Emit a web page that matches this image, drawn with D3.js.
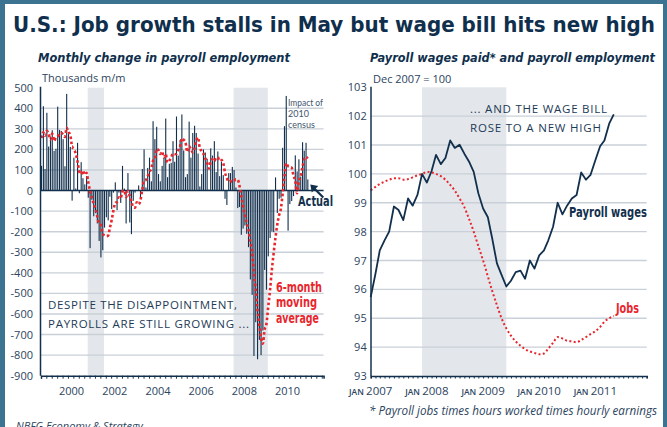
<!DOCTYPE html>
<html>
<head>
<meta charset="utf-8">
<script src="https://cdn.jsdelivr.net/npm/d3@7"></script>
<style>
  body { margin: 0; background: #fff; }
  svg { display: block; }
</style>
</head>
<body>
<svg id="chart" width="667" height="427"></svg>
<script>
// Monthly change in payroll employment, thousands, Jan 1999 - May 2011
const payrollStart = new Date(1999, 0, 1);
const payrollChanges = [
  120, 410, 105, 378, 214, 262, 293, 193, 203, 408, 295, 290,   // 1999
  250, 118, 470, 285, 212, -49, 160, 10, 232, -13, 138, 60,     // 2000
  30, 70, -35, -280, -45, -125, -110, -160, -245, -325, -290, -180, // 2001
  -130, -145, -30, -90, -10, 40, -95, -10, -60, 120, 10, -160,  // 2002
  85, -155, -212, -50, -10, 0, 25, -40, 105, 200, 15, 110,      // 2003
  160, 45, 337, 250, 310, 80, 45, 120, 160, 350, 65, 130,       // 2004
  135, 240, 140, 360, 170, 245, 370, 195, 65, 80, 335, 160,     // 2005
  280, 315, 280, 180, 20, 80, 200, 185, 155, 5, 205, 170,       // 2006
  240, 90, 190, 70, 140, 75, -40, -70, 85, 85, 115, 100,        // 2007
  15, -85, -80, -215, -185, -170, -210, -275, -432, -507, -804, -640, // 2008
  -820, -726, -800, -680, -386, -482, -320, -231, -199, -202, 64, -109, // 2009
  -40, -35, 208, 313, 460, -195, -66, -51, -27, 171, 93, 152,   // 2010
  68, 235, 194, 232, 54                                          // 2011
];
// Aug-Dec 1998, only feeds the first moving-average points
const prior1998 = [240, 210, 230, 300, 430];

// Index, Dec 2007 = 100, Jan 2007 - May 2011
const indexStart = new Date(2007, 0, 1);
const wagesIndex = [
  95.73, 96.54, 97.35, 97.7, 98.0, 98.87, 98.75, 98.4, 99.15, 98.9, 99.27, 100.0,
  99.7, 100.1, 100.66, 100.34, 100.55, 101.16, 100.9, 101.01, 100.7, 100.43, 100.07, 99.33,
  98.8, 98.5, 97.77, 96.9, 96.5, 96.1, 96.3, 96.6, 96.65, 96.37, 97.0, 96.72,
  97.18, 97.35, 97.7, 98.17, 99.0, 98.6, 98.9, 99.15, 99.27, 100.05, 99.8, 99.97,
  100.47, 100.96, 101.16, 101.74, 102.06
];
const jobsIndex = [
  99.43, 99.55, 99.65, 99.73, 99.8, 99.85, 99.85, 99.8, 99.82, 99.88, 99.95, 100.0,
  100.07, 100.05, 100.0, 99.92, 99.8, 99.62, 99.42, 99.15, 98.85, 98.45, 98.0, 97.5,
  97.0, 96.45, 95.95, 95.45, 95.0, 94.65, 94.4, 94.2, 94.05, 93.93, 93.85, 93.8,
  93.75, 93.78, 93.95, 94.15, 94.35, 94.3, 94.22, 94.2, 94.17, 94.25, 94.35, 94.45,
  94.55, 94.7, 94.88, 95.0, 95.08
];

const recessions = [
  [new Date(2001, 2, 1), new Date(2001, 10, 1)],
  [new Date(2007, 11, 1), new Date(2009, 5, 1)]
];
const leftTicks = [500, 400, 300, 200, 100, 0, -100, -200, -300, -400, -500, -600, -700, -800, -900];
const leftYears = [2000, 2002, 2004, 2006, 2008, 2010];
const rightTicks = [103, 102, 101, 100, 99, 98, 97, 96, 95, 94, 93];
const rightYears = [2007, 2008, 2009, 2010, 2011];

const navy = '#12304d';
const red = '#e8262d';
const gridColor = '#c9d0d7';
const shadeColor = '#e3e7eb';
const labelColor = '#2c445e';
const sans = '"Open Sans", "Noto Sans", sans-serif';
const cond = '"DejaVu Sans Condensed", "Liberation Sans Narrow", sans-serif';

const monthAdd = (d, n) => new Date(d.getFullYear(), d.getMonth() + n, 1);

const svg = d3.select('#chart');

// frame
svg.append('rect').attr('width', 667).attr('height', 427).attr('fill', '#3b7391');
svg.append('rect').attr('x', 5).attr('y', 4).attr('width', 658).attr('height', 430).attr('fill', '#fff');

svg.append('text')
  .attr('x', 13).attr('y', 32)
  .attr('textLength', 642).attr('lengthAdjust', 'spacingAndGlyphs')
  .style('font-family', cond).style('font-weight', 'bold').style('font-size', '22px')
  .attr('fill', '#0f2f4d')
  .text('U.S.: Job growth stalls in May but wage bill hits new high');

function subtitle(x, y, w, txt) {
  svg.append('text')
    .attr('x', x).attr('y', y)
    .attr('textLength', w).attr('lengthAdjust', 'spacingAndGlyphs')
    .style('font-family', cond).style('font-weight', 'bold')
    .style('font-style', 'italic').style('font-size', '12.5px')
    .attr('fill', '#0f2f4d')
    .text(txt);
}
subtitle(38, 62, 252, 'Monthly change in payroll employment');
subtitle(370, 62, 285, 'Payroll wages paid* and payroll employment');

function label(x, y, txt, opts = {}) {
  const t = svg.append('text')
    .attr('x', x).attr('y', y)
    .attr('text-anchor', opts.anchor || 'start')
    .style('font-family', opts.family || sans)
    .style('font-size', (opts.size || 11) + 'px')
    .style('font-weight', opts.weight || 'normal')
    .style('font-style', opts.style || 'normal')
    .attr('fill', opts.fill || labelColor)
    .text(txt);
  if (opts.width) {
    t.attr('textLength', opts.width).attr('lengthAdjust', opts.adjust || 'spacingAndGlyphs');
  }
  return t;
}

// ---------- left chart ----------
const xL = d3.scaleTime()
  .domain([payrollStart, new Date(2012, 1, 1)])
  .range([41, 323.6]);
const yL = d3.scaleLinear().domain([-900, 500]).range([375.7, 87.7]);
const monthW = xL(monthAdd(payrollStart, 1)) - xL(payrollStart);

const left = svg.append('g');

left.selectAll('rect.shade')
  .data(recessions)
  .enter().append('rect')
  .attr('class', 'shade')
  .attr('x', d => xL(d[0]))
  .attr('width', d => xL(d[1]) + monthW - xL(d[0]))
  .attr('y', yL(500))
  .attr('height', yL(-900) - yL(500))
  .attr('fill', shadeColor);

left.selectAll('line.grid')
  .data(leftTicks.filter(v => v !== 0 && v !== -900 && v !== 500))
  .enter().append('line')
  .attr('x1', 40).attr('x2', 323.6)
  .attr('y1', d => yL(d)).attr('y2', d => yL(d))
  .attr('stroke', gridColor).attr('stroke-width', 1.4);

const payroll = payrollChanges.map((v, i) => ({ date: monthAdd(payrollStart, i), value: v }));

left.selectAll('rect.bar')
  .data(payroll)
  .enter().append('rect')
  .attr('class', 'bar')
  .attr('x', d => xL(d.date))
  .attr('width', 1.1)
  .attr('y', d => yL(Math.max(0, d.value)))
  .attr('height', d => Math.abs(yL(d.value) - yL(0)))
  .attr('fill', navy);

left.append('line')
  .attr('x1', 40).attr('x2', 323.6)
  .attr('y1', yL(0)).attr('y2', yL(0))
  .attr('stroke', navy).attr('stroke-width', 1.5);

// 6-month moving average
const withPrior = prior1998.concat(payrollChanges);
const movingAvg = payroll.map((d, i) => ({ date: d.date, value: d3.mean(withPrior.slice(i, i + 6)) }));

left.append('path')
  .datum(movingAvg)
  .attr('fill', 'none')
  .attr('stroke', red)
  .attr('stroke-width', 2.6)
  .attr('stroke-dasharray', '2.6,2.4')
  .attr('d', d3.line().x(d => xL(d.date) + 0.5).y(d => yL(d.value)).curve(d3.curveMonotoneX));

const xAxisL = d3.axisBottom(xL)
  .tickValues(d3.timeMonth.every(3).range(payrollStart, new Date(2012, 1, 2)))
  .tickSize(3)
  .tickFormat('');
left.append('g')
  .attr('transform', `translate(0,${yL(-900)})`)
  .call(xAxisL)
  .call(g => g.select('.domain').attr('stroke', navy).attr('stroke-width', 1.5))
  .call(g => g.selectAll('.tick line').attr('stroke', navy));

left.append('line')
  .attr('x1', 40.5).attr('x2', 40.5)
  .attr('y1', 86.7).attr('y2', yL(-900))
  .attr('stroke', navy).attr('stroke-width', 1.5);

leftTicks.forEach(v => label(33, yL(v) + 4, String(v), { anchor: 'end' }));
leftYears.forEach(y => label(xL(new Date(y, 5, 1)), 395, String(y), { anchor: 'middle' }));
label(42, 82, 'Thousands m/m');

// annotations
const capsOpts = { size: 11.5, fill: '#1d3a56', adjust: 'spacing' };
label(48, 309, 'DESPITE THE DISAPPOINTMENT,', { ...capsOpts, width: 189 });
label(48, 328, 'PAYROLLS ARE STILL GROWING ...', { ...capsOpts, width: 201 });

const redBold = { size: 14, weight: 'bold', fill: red, family: cond };
label(276, 292, '6-month', { ...redBold, width: 46 });
label(276, 307, 'moving', { ...redBold, width: 41 });
label(276, 323, 'average', { ...redBold, width: 43 });

label(298, 206, 'Actual', { size: 14, weight: 'bold', fill: navy, family: cond, width: 35 });
const smallOpts = { size: 9, fill: '#3f566e', family: 'Lato, "Open Sans", sans-serif' };
label(288, 106, 'Impact of', { ...smallOpts, width: 35 });
label(288, 117, '2010', smallOpts);
label(288, 128, 'census', smallOpts);

// arrow pointing at the latest month
const last = payroll[payroll.length - 1];
const tipX = xL(last.date) + 3;
const tipY = yL(0) - 6;
left.append('line')
  .attr('x1', tipX + 4).attr('y1', tipY + 4)
  .attr('x2', tipX + 13).attr('y2', tipY + 13)
  .attr('stroke', navy).attr('stroke-width', 2.2);
left.append('path')
  .attr('d', `M${tipX},${tipY}L${tipX + 8},${tipY + 1.5}L${tipX + 1.5},${tipY + 8}Z`)
  .attr('fill', navy);

label(16, 430, 'NBFG Economy & Strategy', { size: 11, style: 'italic', fill: '#2c445e' });

// ---------- right chart ----------
const xR = d3.scaleTime()
  .domain([indexStart, new Date(2011, 11, 1)])
  .range([370.7, 646.7]);
const yR = d3.scaleLinear().domain([93, 103]).range([376, 87.3]);

const right = svg.append('g');

right.selectAll('rect.shade')
  .data(recessions.filter(d => d[1] > indexStart))
  .enter().append('rect')
  .attr('x', d => xR(d[0]))
  .attr('width', d => xR(d[1]) - xR(d[0]))
  .attr('y', yR(103))
  .attr('height', yR(93) - yR(103))
  .attr('fill', shadeColor);

right.selectAll('line.grid')
  .data(rightTicks.filter(v => v !== 93 && v !== 103))
  .enter().append('line')
  .attr('x1', 371).attr('x2', 646.7)
  .attr('y1', d => yR(d)).attr('y2', d => yR(d))
  .attr('stroke', gridColor).attr('stroke-width', 1.4);

const wages = wagesIndex.map((v, i) => ({ date: monthAdd(indexStart, i), value: v }));
const jobs = jobsIndex.map((v, i) => ({ date: monthAdd(indexStart, i), value: v }));

right.append('path')
  .datum(jobs)
  .attr('fill', 'none')
  .attr('stroke', red)
  .attr('stroke-width', 2)
  .attr('stroke-dasharray', '2,2.4')
  .attr('d', d3.line().x(d => xR(d.date)).y(d => yR(d.value)).curve(d3.curveMonotoneX));

right.append('path')
  .datum(wages)
  .attr('fill', 'none')
  .attr('stroke', navy)
  .attr('stroke-width', 1.8)
  .attr('stroke-linejoin', 'round')
  .attr('d', d3.line().x(d => xR(d.date)).y(d => yR(d.value)));

const xAxisR = d3.axisBottom(xR)
  .tickValues(d3.timeMonth.every(1).range(indexStart, new Date(2011, 11, 2)))
  .tickSize(2.5)
  .tickFormat('');
right.append('g')
  .attr('transform', `translate(0,${yR(93)})`)
  .call(xAxisR)
  .call(g => g.select('.domain').attr('stroke', navy).attr('stroke-width', 1.5))
  .call(g => g.selectAll('.tick line').attr('stroke', navy));

right.append('line')
  .attr('x1', 371).attr('x2', 371)
  .attr('y1', 86.7).attr('y2', yR(93))
  .attr('stroke', navy).attr('stroke-width', 1.5);

rightTicks.forEach(v => label(366.7, yR(v) + 4, String(v), { anchor: 'end' }));
rightYears.forEach(y => {
  const t = label(xR(new Date(y, 0, 1)), 395, '', { anchor: 'middle', size: 11.5 });
  t.append('tspan').style('font-size', '8.5px').style('font-weight', '600').text('JAN ');
  t.append('tspan').text(String(y));
});
label(373, 82.7, 'Dec 2007 = 100');

label(470, 112.7, '... AND THE WAGE BILL', { ...capsOpts, width: 137 });
label(470, 131.7, 'ROSE TO A NEW HIGH', { ...capsOpts, width: 131 });

label(569, 217, 'Payroll wages', { size: 13.5, weight: 'bold', fill: navy, family: cond, width: 78 });
label(616, 313, 'Jobs', { size: 13.5, weight: 'bold', fill: red, family: cond, width: 23 });

label(369, 415, '* Payroll jobs times hours worked times hourly earnings',
  { size: 12, style: 'italic', fill: '#2c445e', width: 288 });
</script>
</body>
</html>
